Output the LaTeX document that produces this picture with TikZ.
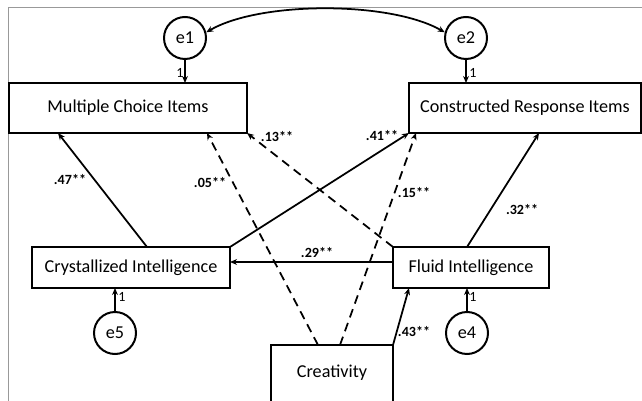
\documentclass[tikz,border=0pt]{standalone}
\usepackage{fontspec}
\setmainfont{Carlito}
\usetikzlibrary{arrows.meta}

\begin{document}
\begin{tikzpicture}[x=0.03cm, y=-0.03cm,
  box/.style={draw, line width=2pt, minimum height=1.5cm, inner sep=0pt, outer sep=0pt, font=\fontsize{15.5}{18}\selectfont},
  err/.style={draw, circle, line width=1.7pt, minimum size=1.26cm, inner sep=0pt, font=\fontsize{15.5}{18}\selectfont},
  coef/.style={font=\fontsize{12}{14}\selectfont\bfseries, inner sep=1pt},
  one/.style={font=\fontsize{12}{14}\selectfont, inner sep=1pt},
  effect/.style={line width=1.5pt, -{Stealth[length=6pt,width=5pt]}},
  weak/.style={effect, dash pattern=on 7.5pt off 5pt}]
\clip (0,0) rectangle (642,401);
\draw[gray!80, line width=0.7pt] (8,401) -- (8,7) -- (642,7);

\node[box, minimum width=7.14cm] (mc) at (128,108) {Multiple Choice Items};
\node[box, minimum width=6.96cm] (cr) at (525,108) {Constructed Response Items};
\node[box, minimum width=5.94cm, minimum height=1.23cm] (cryst) at (131,267.5) {Crystallized Intelligence};
\node[box, minimum width=4.68cm, minimum height=1.23cm] (fluid) at (471,267.5) {Fluid Intelligence};
\node[box, minimum width=3.66cm, minimum height=0pt, text height=0.96cm, text depth=0.84cm, anchor=north] (creat) at (332,345) {Creativity};

\node[err] (e1) at (185,38) {e1};
\node[err] (e2) at (466,38) {e2};
\node[err] (e5) at (115,333) {e5};
\node[err] (e4) at (467,333) {e4};

\node[one] (o1) at (180,73) {1};
\node[one] (o2) at (473,73) {1};
\node[one] (o5) at (122,297) {1};
\node[one] (o4) at (473,297) {1};

\node[coef] (b47) at (70,180) {.47**};
\node[coef] (b05) at (210,183) {.05**};
\node[coef] (b13) at (277,137) {.13**};
\node[coef] (b41) at (382,136) {.41**};
\node[coef] (b15) at (414,193) {.15**};
\node[coef] (b32) at (522,210) {.32**};
\node[coef] (b29) at (317,253) {.29**};
\node[coef] (b43) at (414,332) {.43**};

\draw[effect] (e1) -- (e1 |- mc.north);
\draw[effect] (e2) -- (e2 |- cr.north);
\draw[effect] (e5) -- (e5 |- cryst.south);
\draw[effect] (e4) -- (e4 |- fluid.south);
\draw[effect] ([xshift=0.48cm]cryst.north) -- ([xshift=1.47cm]mc.south west);
\draw[effect] (cryst.north east) -- (cr.south west);
\draw[effect] ([yshift=0.165cm]fluid.west) -- ([yshift=0.165cm]cryst.east);
\draw[effect] ([xshift=-0.12cm]fluid.north) -- ([xshift=0.42cm]cr.south);
\draw[weak] (fluid.north west) -- (mc.south east);
\draw[weak] ([xshift=-0.42cm]creat.north) -- ([xshift=-1.2cm]mc.south east);
\draw[weak] ([xshift=0.24cm]creat.north) -- ([xshift=0.21cm]cr.south west);
\draw[effect] (creat.north east) -- ([xshift=0.48cm]fluid.south west);
\draw[line width=1.5pt, {Stealth[length=6pt,width=5pt]}-{Stealth[length=6pt,width=5pt]}] (e1.15) .. controls (260,1) and (390,1) .. (e2.165);
\end{tikzpicture}
\end{document}
